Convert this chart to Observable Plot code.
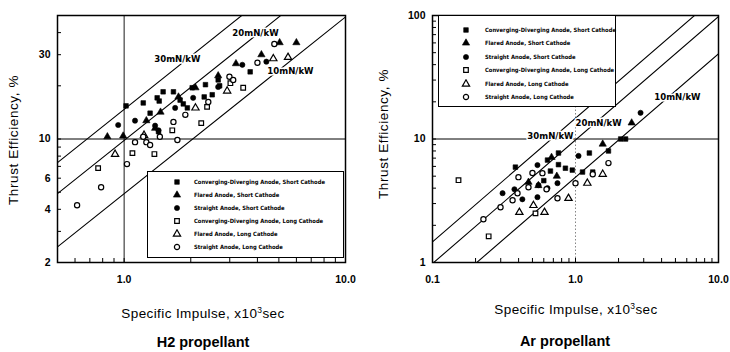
<!DOCTYPE html>
<html>
<head>
<meta charset="utf-8">
<script src="https://cdn.jsdelivr.net/npm/d3@7"></script>
<script src="https://cdn.jsdelivr.net/npm/@observablehq/plot@0.6"></script>
<style>
  body { margin: 0; background: #fff; font-family: "Liberation Sans", Arial, sans-serif; color: #000; }
  #wrap { position: relative; width: 730px; height: 352px; overflow: hidden; }
  .panel { position: absolute; top: 0; width: 365px; height: 352px; }
  .panel > svg { position: absolute; left: 0; top: 0; }
  .ylab { position: absolute; font-size: 13.5px; letter-spacing: 0.6px; white-space: nowrap; transform: translate(-50%, -50%) rotate(-90deg); }
  .xlab { position: absolute; font-size: 13.5px; letter-spacing: 0.4px; white-space: nowrap; transform: translate(-50%, -50%); }
  .xlab sup { font-size: 8.5px; }
  .title { position: absolute; font-size: 14.5px; font-weight: bold; white-space: nowrap; transform: translate(-50%, -50%); }
  .legend { position: absolute; background: #fff; border: 1.4px solid #000; box-sizing: border-box; }
  .legend .sym { position: absolute; }
  .legend .txt { position: absolute; white-space: nowrap; line-height: 10px;
    font-family: "Liberation Sans Narrow", "DejaVu Sans Condensed", Arial, sans-serif; font-weight: bold; font-size: 5.8px; }
</style>
</head>
<body>
<div id="wrap"></div>
<script>
// ---- Series names (legend order) ----
const seriesNames = [
  "Converging-Diverging Anode,  Short Cathode",
  "Flared Anode,  Short Cathode",
  "Straight Anode,  Short Cathode",
  "Converging-Diverging Anode,  Long Cathode",
  "Flared Anode,  Long Cathode",
  "Straight Anode,  Long Cathode"
];
const seriesSymbols = ["square", "triangle", "circle", "square", "triangle", "circle"];
const seriesFilled = [true, true, true, false, false, false];

// ---- H2 propellant: [specific impulse (x10^3 s), thrust efficiency (%)] ----
const h2CdShort = [[1.02,15.4],[1.22,16.0],[1.31,14.0],[1.41,17.1],[1.44,16.4],[1.50,18.5],[1.67,18.5],[1.79,16.6],[1.85,15.8],[1.93,15.0],[2.03,19.5],[2.30,17.3],[2.33,20.3],[2.50,17.8],[2.66,21.6],[2.70,20.0],[1.43,11.0],[3.71,24.0]];
const h2FlShort = [[0.84,10.3],[0.99,10.4],[1.26,12.7],[1.38,11.5],[1.46,14.2],[1.76,17.3],[2.10,19.5],[2.66,22.8],[3.20,26.7],[4.17,30.0],[5.04,35.1],[6.0,35.1]];
const h2StShort = [[0.94,12.0],[1.12,12.7],[1.38,11.9],[1.43,11.2],[1.70,15.0],[2.05,17.1],[2.66,19.7],[3.42,26.3],[4.39,27.4]];
const h2CdLong = [[0.763,6.84],[1.09,8.32],[1.37,8.22],[1.65,11.2],[2.23,12.3],[2.37,15.2],[3.02,20.7],[3.45,19.5]];
const h2FlLong = [[0.91,8.2],[1.23,10.5],[2.10,15.0],[2.92,18.7],[4.72,28.5],[5.5,29.0]];
const h2StLong = [[0.613,4.22],[0.787,5.33],[1.03,7.21],[1.12,9.6],[1.22,10.3],[1.26,9.6],[1.31,9.25],[1.45,10.3],[1.67,12.5],[1.74,9.87],[1.89,13.7],[2.40,16.2],[2.99,22.5],[3.11,21.6],[4.0,27.0],[4.77,34.5]];

// ---- Ar propellant ----
const arCdShort = [[0.38,5.92],[0.637,6.75],[0.76,7.7],[0.668,5.5],[0.76,6.2],[0.85,5.8],[0.95,5.6],[1.12,5.4],[1.25,7.7],[1.32,5.4],[1.70,8.0],[2.07,10.0],[2.24,10.0],[0.60,4.6]];
const arFlShort = [[0.469,4.47],[0.68,7.1],[0.74,5.0],[1.55,9.1],[2.47,13.5],[0.55,4.2]];
const arStShort = [[0.309,3.64],[0.374,3.92],[0.425,3.25],[0.542,6.15],[0.542,3.38],[0.551,4.23],[0.637,4.0],[0.748,4.39],[1.05,7.3],[2.85,16.3]];
const arCdLong = [[0.152,4.64],[0.247,1.63],[0.525,2.5]];
const arFlLong = [[0.405,2.55],[0.508,2.9],[0.607,2.55],[0.893,3.31],[1.21,4.39],[1.55,5.19]];
const arStLong = [[0.227,2.24],[0.299,2.8],[0.363,3.19],[0.393,3.64],[0.399,4.91],[0.469,4.07],[0.50,5.3],[0.587,5.29],[0.627,3.92],[0.748,3.31],[1.0,4.39],[1.32,5.19],[1.70,6.38]];

// ---- Thrust-to-power ratio lines (mN/kW) ----
const thrustPerPower = [10, 20, 30];
const G0 = 9.80665;
// efficiency (%) = (T/P) * g0 * Isp / 2, with T/P in mN/kW and Isp in 10^3 s
const efficiency = (k, isp) => k * 1e-6 * G0 * isp * 1e3 / 2 * 100;

// ---- Axis ticks ----
const h2XTicks = [1, 10];
const h2YTicks = [2, 4, 6, 8, 10, 30];
const arXTicks = [0.1, 1, 10];
const arYTicks = [1, 10, 100];

// ---- Line label anchors [Isp, efficiency, text] ----
const h2LineLabels = [[1.74, 28.5, "30mN/kW"], [3.92, 40.0, "20mN/kW"], [5.64, 24.3, "10mN/kW"]];
const arLineLabels = [[0.668, 10.6, "30mN/kW"], [1.45, 13.5, "20mN/kW"], [5.16, 21.9, "10mN/kW"]];

function minorTicks(lo, hi) {
  const out = [];
  for (let p = Math.floor(Math.log10(lo)); p <= Math.ceil(Math.log10(hi)); p++) {
    for (let m = 1; m <= 9; m++) {
      const v = m * Math.pow(10, p);
      if (v >= lo * 0.9999 && v <= hi * 1.0001) out.push(+v.toPrecision(6));
    }
  }
  return out;
}

const W = 365, H = 290, MT = 15, MB = 28;
const symbolRadius = i => seriesSymbols[i] === "triangle" ? 2.7 : 2.6;

function makePanel(cfg) {
  const frameH = H - MT - MB;
  const frameW = W - cfg.marginLeft - cfg.marginRight;
  const pts = cfg.series.flatMap((arr, i) => arr.map(([isp, eff]) => ({isp, eff, i})));
  const ratioLines = thrustPerPower.flatMap(k => cfg.xDomain.map(isp => ({k, isp, eff: efficiency(k, isp)})));
  const labels = cfg.lineLabels.map(([isp, eff, text]) => ({isp, eff, text}));

  const marks = [
    Plot.ruleY([10], {stroke: "#000", strokeWidth: 1}),
    Plot.ruleX([1], {stroke: cfg.vColor, strokeWidth: 0.9, strokeDasharray: cfg.vDash}),
    Plot.line(ratioLines, {x: "isp", y: "eff", z: "k", stroke: "#000", strokeWidth: 1.1, clip: true}),
    Plot.text(labels, {x: "isp", y: "eff", text: "text", fill: "#000", stroke: "#fff", strokeWidth: 3,
      fontFamily: "'Liberation Sans Narrow','DejaVu Sans Condensed',Arial,sans-serif", fontWeight: "bold", fontSize: 9.5})
  ];
  for (let i = 0; i < 6; i++) {
    const sel = pts.filter(d => d.i === i);
    marks.push(Plot.dot(sel, {
      x: "isp", y: "eff", symbol: seriesSymbols[i], r: symbolRadius(i),
      fill: seriesFilled[i] ? "#000" : "#fff",
      stroke: "#000", strokeWidth: seriesFilled[i] ? 0.6 : 1.2
    }));
  }
  const xm = minorTicks(cfg.xDomain[0], cfg.xDomain[1]);
  const ym = minorTicks(cfg.yDomain[0], cfg.yDomain[1]);
  marks.push(
    Plot.tickX(xm, {x: d => d, insetTop: frameH - 4, stroke: "#000", strokeWidth: 1}),
    Plot.tickY(ym, {y: d => d, insetRight: frameW - 4, stroke: "#000", strokeWidth: 1}),
    Plot.axisX({ticks: cfg.xTicks, tickFormat: d => d.toFixed(1), tickSize: 0, tickPadding: 13, fontWeight: "bold"}),
    Plot.axisY({ticks: cfg.yTicks, tickFormat: d => String(d), tickSize: 0, tickPadding: 7, fontWeight: "bold"}),
    Plot.frame({stroke: "#000", strokeWidth: 1.5})
  );

  return Plot.plot({
    width: W, height: H,
    marginTop: MT, marginBottom: MB, marginLeft: cfg.marginLeft, marginRight: cfg.marginRight,
    x: {type: "log", domain: cfg.xDomain, label: null},
    y: {type: "log", domain: cfg.yDomain, label: null},
    style: {fontFamily: "'Liberation Sans', Arial, sans-serif", fontSize: "10.5px", color: "#000", background: "#fff"},
    marks
  });
}

// Legend box drawn inside the plot frame; positions are relative to the box.
function legendBox(box) {
  const el = document.createElement("div");
  el.className = "legend";
  Object.assign(el.style, {left: box.left + "px", top: box.top + "px", width: box.width + "px", height: box.height + "px"});
  seriesNames.forEach((name, i) => {
    const cy = box.rowTop + i * box.rowStep;
    const sym = d3.create("svg").attr("class", "sym").attr("width", 10).attr("height", 10)
      .style("left", (box.symX - 5) + "px").style("top", (cy - 5) + "px");
    const s = seriesSymbols[i] === "square" ? d3.symbolSquare : seriesSymbols[i] === "triangle" ? d3.symbolTriangle : d3.symbolCircle;
    const r = symbolRadius(i);
    sym.append("path")
      .attr("transform", "translate(5,5)")
      .attr("d", d3.symbol(s, Math.PI * r * r)())
      .attr("fill", seriesFilled[i] ? "#000" : "#fff")
      .attr("stroke", "#000").attr("stroke-width", seriesFilled[i] ? 0.6 : 1.2);
    el.appendChild(sym.node());
    const t = document.createElement("div");
    t.className = "txt";
    t.textContent = name;
    t.style.left = box.textX + "px";
    t.style.top = (cy - 5) + "px";
    el.appendChild(t);
  });
  return el;
}

function buildPanel(left, cfg) {
  const wrap = document.getElementById("wrap");
  const p = document.createElement("div");
  p.className = "panel";
  p.style.left = left + "px";
  p.appendChild(makePanel(cfg));
  p.appendChild(legendBox(cfg.legend));

  const yl = document.createElement("div");
  yl.className = "ylab"; yl.textContent = "Thrust Efficiency,  %";
  yl.style.left = cfg.yLabelPos[0] + "px"; yl.style.top = cfg.yLabelPos[1] + "px";
  p.appendChild(yl);

  const xl = document.createElement("div");
  xl.className = "xlab"; xl.innerHTML = "Specific Impulse,  x10<sup>3</sup>sec";
  xl.style.left = cfg.xLabelPos[0] + "px"; xl.style.top = cfg.xLabelPos[1] + "px";
  p.appendChild(xl);

  const tt = document.createElement("div");
  tt.className = "title"; tt.textContent = cfg.title;
  tt.style.left = cfg.titlePos[0] + "px"; tt.style.top = cfg.titlePos[1] + "px";
  p.appendChild(tt);

  wrap.appendChild(p);
}

buildPanel(0, {
  title: "H2 propellant",
  xDomain: [0.5, 10], yDomain: [2, 50],
  xTicks: h2XTicks, yTicks: h2YTicks,
  marginLeft: 57, marginRight: 20,
  series: [h2CdShort, h2FlShort, h2StShort, h2CdLong, h2FlLong, h2StLong],
  lineLabels: h2LineLabels,
  vColor: "#000", vDash: null,
  legend: {left: 147, top: 171, width: 197, height: 87, symX: 29, textX: 46, rowTop: 10, rowStep: 13},
  yLabelPos: [13, 140], xLabelPos: [203, 313], titlePos: [203, 342]
});

buildPanel(365, {
  title: "Ar propellant",
  xDomain: [0.1, 10], yDomain: [1, 100],
  xTicks: arXTicks, yTicks: arYTicks,
  marginLeft: 67, marginRight: 12,
  series: [arCdShort, arFlShort, arStShort, arCdLong, arFlLong, arStLong],
  lineLabels: arLineLabels,
  vColor: "#777", vDash: "1.5,2",
  legend: {left: 73, top: 15, width: 178, height: 92, symX: 27, textX: 46, rowTop: 14, rowStep: 13.4},
  yLabelPos: [18, 134], xLabelPos: [211, 309], titlePos: [200, 341]
});
</script>
</body>
</html>
